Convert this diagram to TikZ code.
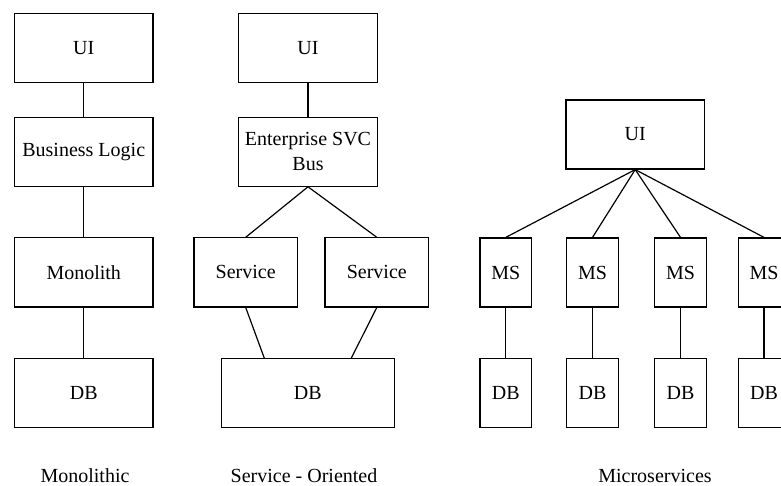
\documentclass[tikz,border=0pt]{standalone}
\usepackage{fontspec}
\setmainfont{Liberation Serif}
\usetikzlibrary{calc}
\tikzset{
  box/.style={draw, line width=1.2pt, inner sep=0pt, align=center,
    minimum height=69pt, font=\fontsize{20}{24.5}\selectfont},
  wide/.style={box, minimum width=138.5pt},
  mid/.style={box, minimum width=103.6pt},
  narrow/.style={box, minimum width=51.7pt},
  link/.style={line width=1.2pt},
  caption/.style={anchor=base, inner sep=0pt, font=\fontsize{20}{24}\selectfont}
}
\begin{document}
\begin{tikzpicture}[x=1pt, y=-1pt]
\useasboundingbox (0,0) rectangle (781,486);

% Monolithic stack
\node[wide] (mui)  at (83.75, 48.25) {UI};
\node[wide] (mbl)  at (83.75, 151.7) {Business Logic};
\node[wide] (mmon) at (83.75, 272.4) {Monolith};
\node[wide] (mdb)  at (83.75, 393.1) {DB};
\draw[link] (mui) -- (mbl);
\draw[link] (mbl) -- (mmon);
\draw[link] (mmon) -- (mdb);
\node[caption] (mcap) at (85, 482) {Monolithic};

% Service-oriented stack
\node[wide] (sui)  at (308, 48.25) {UI};
\node[wide] (sesb) at (308, 151.7) {Enterprise SVC\\Bus};
\node[mid]  (ss1)  at (245.7, 272.4) {Service};
\node[mid]  (ss2)  at (376.8, 272.4) {Service};
\node[box, minimum width=173pt] (sdb) at (307.8, 393.1) {DB};
\coordinate (sdbl) at ($(sdb.north west)!0.25!(sdb.north east)$);
\coordinate (sdbr) at ($(sdb.north west)!0.75!(sdb.north east)$);
\draw[link] (sui) -- (sesb);
\draw[link] (sesb.south) -- (ss1.north);
\draw[link] (sesb.south) -- (ss2.north);
\draw[link] (ss1.south) -- (sdbl);
\draw[link] (ss2.south) -- (sdbr);
\node[caption] (scap) at (304, 482) {Service - Oriented};

% Microservices
\node[wide] (xui) at (635.2, 134.5) {UI};
\foreach \i/\x in {1/505.8, 2/592.5, 3/680.5, 4/764} {
  \node[narrow] (xms\i) at (\x, 272.5) {MS};
  \node[narrow] (xdb\i) at (\x, 393) {DB};
  \draw[link] (xui.south) -- (xms\i.north);
  \draw[link] (xms\i) -- (xdb\i);
}
\node[caption] (xcap) at (655, 482) {Microservices};
\end{tikzpicture}
\end{document}
